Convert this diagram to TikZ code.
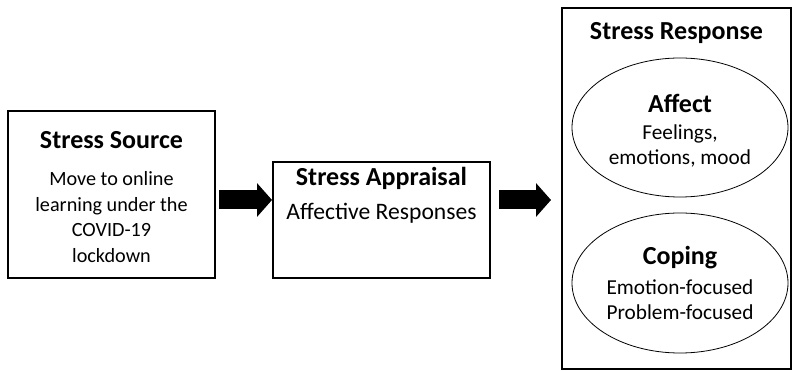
\documentclass[tikz,border=0pt]{standalone}
\usepackage{fontspec}
\setmainfont{Carlito}
\usetikzlibrary{arrows.meta,shapes.geometric}
\tikzset{
  box/.style={draw, line width=2pt, rectangle, inner sep=0pt},
  oval/.style={draw, line width=0.8pt, ellipse, inner sep=0pt},
  ttl/.style={font=\fontsize{26}{30}\selectfont\bfseries, inner sep=0pt},
  body/.style={font=\fontsize{21.3}{25.5}\selectfont, align=center, inner sep=0pt},
  bodyA/.style={body, font=\fontsize{20.2}{25.5}\selectfont},
  bodyB/.style={body, font=\fontsize{23.6}{28}\selectfont},
  blockarrow/.style={line width=19pt, -{Triangle[length=15pt, width=33pt]}},
}
\begin{document}
\begin{tikzpicture}[x=1pt, y=-1pt]
\useasboundingbox (0,0) rectangle (793,371);
% boxes
\node[box, minimum width=207pt, minimum height=167pt] (b1) at (111.5,194.5) {};
\node[box, minimum width=217pt, minimum height=116pt] (b2) at (381.5,220.5) {};
\node[box, minimum width=229pt, minimum height=361pt] (b3) at (676.5,188.5) {};
% ellipses
\node[oval, minimum width=216pt, minimum height=139pt] (e1) at (680,127.5) {};
\node[oval, minimum width=216pt, minimum height=140pt] (e2) at (680,283) {};
% texts
\node[ttl] (t1) at (111.5,140) {Stress Source};
\node[bodyA] (s1) at (111.5,217) {Move to online\\learning under the\\COVID-19\\lockdown};
\node[ttl] (t2) at (381.5,178) {Stress Appraisal};
\node[bodyB] (s2) at (381.5,213) {Affective Responses};
\node[ttl] (t3) at (676.5,33) {Stress Response};
\node[ttl] (t4) at (680,103) {Affect};
\node[body] (s4) at (680,146) {Feelings,\\emotions, mood};
\node[ttl] (t5) at (680,258) {Coping};
\node[body] (s5) at (680,299.5) {Emotion-focused\\Problem-focused};
% arrows
\draw[blockarrow, shorten <=3pt] (b1.east |- 0,200) -- (b2.west |- 0,200);
\draw[blockarrow, shorten <=8pt, shorten >=10pt] (b2.east |- 0,200) -- (b3.west |- 0,200);
\end{tikzpicture}
\end{document}
